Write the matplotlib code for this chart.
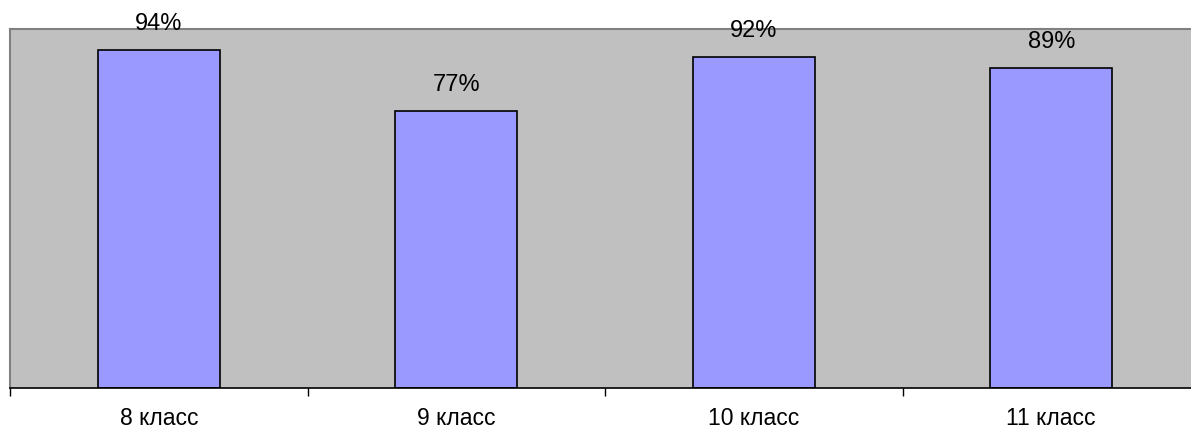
import matplotlib.pyplot as plt
import numpy as np

categories = ["8 класс", "9 класс", "10 класс", "11 класс"]
values = [94, 77, 92, 89]
labels = ["94%", "77%", "92%", "89%"]

plt.rcParams['font.family'] = ['Liberation Sans', 'DejaVu Sans']

W, H = 1191, 434
fig = plt.figure(figsize=(W / 100, H / 100), dpi=100)
# axes runs slightly past the right edge, like the original
ax = fig.add_axes([10 / W, 46 / H, 1190 / W, 359.5 / H])
ax.set_facecolor("#c0c0c0")

x = np.arange(len(categories))
ax.bar(x, values, width=0.41, color="#9999ff", edgecolor="black", linewidth=1.2, zorder=2)

for xi, v, lab in zip(x, values, labels):
    ax.annotate(lab, (xi, v), xytext=(0, 26), textcoords="offset pixels",
                ha="center", va="center", fontsize=17, annotation_clip=False)

ax.set_xlim(-0.5, len(categories) - 0.5)
ax.set_ylim(0, 100)

ax.set_xticks(x)
ax.set_xticklabels(categories, fontsize=16.5)
ax.tick_params(axis="x", which="major", length=0, pad=14)
ax.set_xticks(np.arange(len(categories) + 1) - 0.5, minor=True)
ax.tick_params(axis="x", which="minor", length=6, width=1, color="black", direction="out")
ax.set_yticks([])

ax.spines["top"].set_color("#808080")
ax.spines["left"].set_color("#808080")
ax.spines["top"].set_linewidth(1.5)
ax.spines["left"].set_linewidth(1.5)
ax.spines["bottom"].set_color("black")
ax.spines["bottom"].set_linewidth(1.2)
ax.spines["right"].set_visible(False)

fig.savefig("out.png", dpi=100)
